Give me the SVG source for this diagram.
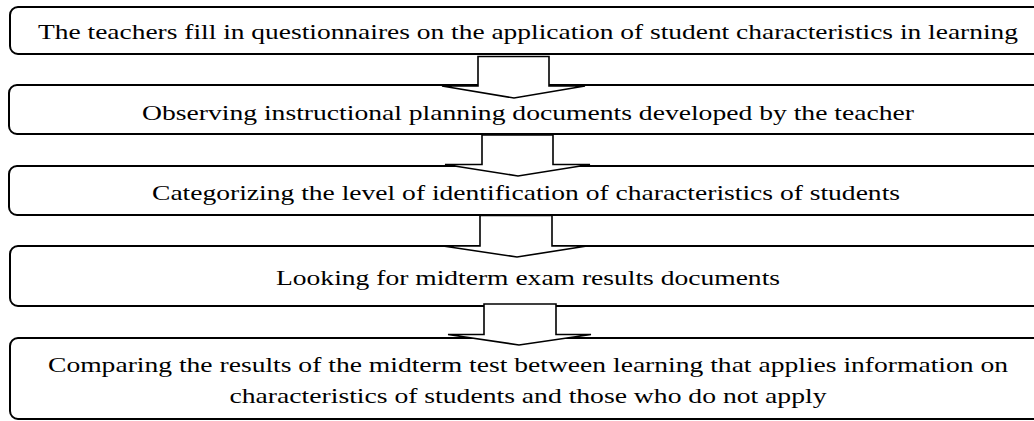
<svg xmlns="http://www.w3.org/2000/svg" width="1034" height="421" viewBox="0 0 1034 421">
<style>
.box{fill:#fff;stroke:#000;stroke-width:2}
.arr{fill:#fff;stroke:#000;stroke-width:1.6;stroke-linejoin:miter}
text{font-family:"Liberation Serif","Times New Roman",serif;font-size:22px;fill:#000;text-anchor:middle}
</style>
<rect width="1034" height="421" fill="#fff"/>
<g id="node1">
<path class="box" d="M1040 7 H18 A8 8 0 0 0 10 15 V46 A8 8 0 0 0 18 54 H1040"/>
<text transform="translate(528 38.5) scale(1.25 1)" x="0" y="0" textLength="784" lengthAdjust="spacingAndGlyphs">The teachers fill in questionnaires on the application of student characteristics in learning</text>
</g>
<g id="node2">
<path class="box" d="M1040 85 H17 A8 8 0 0 0 9 93 V126 A8 8 0 0 0 17 134 H1040"/>
<text transform="translate(528 120) scale(1.25 1)" x="0" y="0" textLength="617.6" lengthAdjust="spacingAndGlyphs">Observing instructional planning documents developed by the teacher</text>
</g>
<g id="node3">
<path class="box" d="M1040 166 H17 A8 8 0 0 0 9 174 V207 A8 8 0 0 0 17 215 H1040"/>
<text transform="translate(526 200) scale(1.25 1)" x="0" y="0" textLength="598.4" lengthAdjust="spacingAndGlyphs">Categorizing the level of identification of characteristics of students</text>
</g>
<g id="node4">
<path class="box" d="M1040 246 H18 A8 8 0 0 0 10 254 V298 A8 8 0 0 0 18 306 H1040"/>
<text transform="translate(528 285) scale(1.25 1)" x="0" y="0" textLength="403.2" lengthAdjust="spacingAndGlyphs">Looking for midterm exam results documents</text>
</g>
<g id="node5">
<path class="box" d="M1040 338 H18 A8 8 0 0 0 10 346 V411 A8 8 0 0 0 18 419 H1040"/>
<text transform="translate(528 372) scale(1.25 1)" x="0" y="0" textLength="768" lengthAdjust="spacingAndGlyphs">Comparing the results of the midterm test between learning that applies information on</text>
<text transform="translate(528 403) scale(1.25 1)" x="0" y="0" textLength="477.6" lengthAdjust="spacingAndGlyphs">characteristics of students and those who do not apply</text>
</g>
<g id="connectors">
<polygon class="arr" points="478,56.5 549,56.5 549,86 585,86 514,98 442,86 478,86"/>
<polygon class="arr" points="482,135 553,135 553,164.5 590,164.5 518,176 445,164.5 482,164.5"/>
<polygon class="arr" points="480,215.5 552,215.5 552,246 587,246 517,257 443,246 480,246"/>
<polygon class="arr" points="484,304 556,304 556,334.5 591,334.5 519,345 448,334.5 484,334.5"/>
</g>
</svg>
